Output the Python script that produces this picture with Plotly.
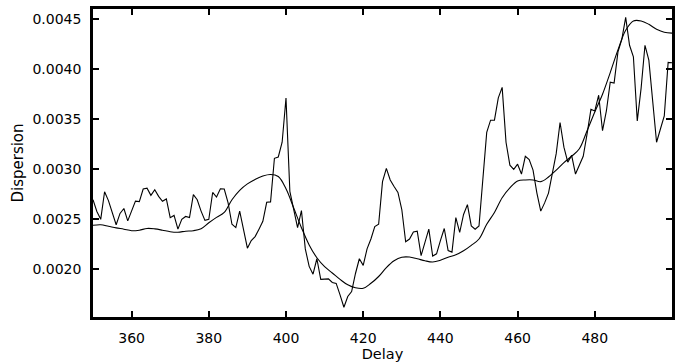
import plotly.graph_objects as go

# Jagged series: delay 350..500 step 1
delay = list(range(350, 501))
dispersion = [
    0.002696, 0.002579, 0.002500, 0.002775, 0.002687, 0.002559, 0.002446, 0.002559, 0.002608, 0.002485,
    0.002588, 0.002682, 0.002677, 0.002802, 0.002811, 0.002739, 0.002795, 0.002729, 0.002680, 0.002703,
    0.002517, 0.002539, 0.002402, 0.002500, 0.002529, 0.002517, 0.002746, 0.002696, 0.002582, 0.002490,
    0.002500, 0.002768, 0.002723, 0.002805, 0.002802, 0.002664, 0.002451, 0.002418, 0.002582, 0.002402,
    0.002212, 0.002289, 0.002328, 0.002402, 0.002480, 0.002670, 0.002674, 0.003109, 0.003122, 0.003269,
    0.003711, 0.002778, 0.002582, 0.002418, 0.002588, 0.002205, 0.002031, 0.001953, 0.002107, 0.001901,
    0.001904, 0.001906, 0.001871, 0.001861, 0.001747, 0.001623, 0.001731, 0.001780, 0.001960, 0.002107,
    0.002041, 0.002205, 0.002304, 0.002428, 0.002451, 0.002876, 0.003008, 0.002893, 0.002827, 0.002768,
    0.002598, 0.002277, 0.002304, 0.002375, 0.002382, 0.002139, 0.002271, 0.002402, 0.002134, 0.002156,
    0.002287, 0.002409, 0.002189, 0.002173, 0.002517, 0.002369, 0.002549, 0.002647, 0.002434, 0.002402,
    0.002434, 0.002893, 0.003367, 0.003489, 0.003489, 0.003711, 0.003816, 0.003269, 0.003040, 0.002998,
    0.003050, 0.002952, 0.003129, 0.003096, 0.002991, 0.002762, 0.002582, 0.002664, 0.002762, 0.002959,
    0.003155, 0.003466, 0.003220, 0.003070, 0.003138, 0.002952, 0.003040, 0.003129, 0.003352, 0.003597,
    0.003581, 0.003738, 0.003384, 0.003581, 0.003868, 0.003859, 0.004170, 0.004295, 0.004514, 0.004236,
    0.004121, 0.003482, 0.003809, 0.004236, 0.004088, 0.003679, 0.003269, 0.003401, 0.003531, 0.004065,
    0.004062,
]

# Smooth series: delay 350..500 step 2
delay_smooth = list(range(350, 501, 2))
dispersion_smooth = [
    0.002441, 0.002446, 0.002431, 0.002415, 0.002402, 0.002387, 0.002392, 0.002409, 0.002405, 0.002392,
    0.002377, 0.002372, 0.002382, 0.002387, 0.002407, 0.002466, 0.002520, 0.002569, 0.002696, 0.002790,
    0.002854, 0.002898, 0.002932, 0.002947, 0.002927, 0.002805, 0.002613, 0.002417, 0.002245, 0.002117,
    0.002028, 0.001965, 0.001901, 0.001847, 0.001817, 0.001812, 0.001862, 0.001930, 0.002019, 0.002087,
    0.002122, 0.002124, 0.002107, 0.002087, 0.002075, 0.002092, 0.002122, 0.002146, 0.002186, 0.002240,
    0.002304, 0.002451, 0.002569, 0.002716, 0.002814, 0.002883, 0.002893, 0.002893, 0.002876, 0.002922,
    0.002991, 0.003065, 0.003129, 0.003204, 0.003384, 0.003571, 0.003748, 0.003964, 0.004190, 0.004386,
    0.004479, 0.004479, 0.004445, 0.004396, 0.004366, 0.004357,
]

x_ticks = [360, 380, 400, 420, 440, 460, 480]
y_ticks = [0.0020, 0.0025, 0.0030, 0.0035, 0.0040, 0.0045]
y_tick_labels = ["0.0020", "0.0025", "0.0030", "0.0035", "0.0040", "0.0045"]

fig = go.Figure()
fig.add_trace(go.Scatter(x=delay, y=dispersion, mode="lines",
                         line=dict(color="black", width=1.1), showlegend=False))
fig.add_trace(go.Scatter(x=delay_smooth, y=dispersion_smooth, mode="lines",
                         line=dict(color="black", width=1.1, shape="spline"), showlegend=False))

axis_common = dict(
    showline=True, linecolor="black", linewidth=2.5, mirror="ticks",
    ticks="inside", ticklen=6, tickwidth=1.5, tickcolor="black",
    showgrid=False, zeroline=False,
    tickfont=dict(family="DejaVu Sans", size=14, color="black"),
)

fig.update_layout(
    width=681, height=364,
    margin=dict(l=93, r=7, t=6, b=45),
    paper_bgcolor="white", plot_bgcolor="white",
    font=dict(family="DejaVu Sans", color="black"),
    xaxis=dict(range=[350, 500], tickvals=x_ticks, ticklabelstandoff=6,
               title=dict(text="Delay", font=dict(size=14.5), standoff=2),
               **axis_common),
    yaxis=dict(range=[0.001526, 0.004598], tickvals=y_ticks, ticktext=y_tick_labels,
               ticklabelstandoff=6,
               title=dict(text="Dispersion", font=dict(size=15), standoff=6),
               **axis_common),
)

fig.write_html("out.html")
